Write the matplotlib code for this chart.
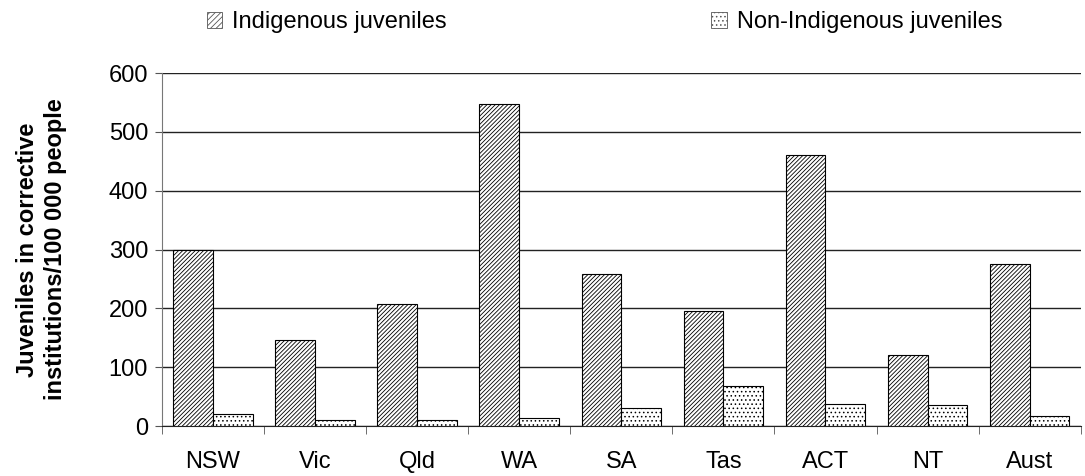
import matplotlib.pyplot as plt
import numpy as np
from matplotlib.patches import Patch

plt.rcParams['font.family'] = ['Liberation Sans', 'DejaVu Sans']
plt.rcParams['hatch.linewidth'] = 0.6

# data
states = ['NSW', 'Vic', 'Qld', 'WA', 'SA', 'Tas', 'ACT', 'NT', 'Aust']
indigenous = [300, 147, 208, 548, 258, 195, 460, 120, 276]
non_indigenous = [20, 11, 10, 14, 30, 68, 38, 35, 17]
y_ticks = [0, 100, 200, 300, 400, 500, 600]

fig = plt.figure(figsize=(10.85, 4.76), dpi=100)
ax = fig.add_axes([0.1493, 0.105, 0.8467, 0.7416])

x = np.arange(len(states))
w = 0.39
ax.bar(x - w / 2, indigenous, w, color='white', edgecolor='black', hatch='////////',
       linewidth=0.8, zorder=3, label='Indigenous juveniles')
ax.bar(x + w / 2, non_indigenous, w, color='white', edgecolor='black', hatch='....',
       linewidth=0.8, zorder=3, label='Non-Indigenous juveniles')

ax.set_xlim(-0.5, len(states) - 0.5)
ax.set_ylim(0, 600)
ax.set_yticks(y_ticks)
ax.set_yticklabels([str(v) for v in y_ticks], fontsize=17)
ax.yaxis.grid(True, color='#222222', linewidth=1.0, zorder=0)

# category labels centred, ticks between categories
ax.set_xticks(x)
ax.set_xticklabels(states, fontsize=17)
ax.tick_params(axis='x', length=0, pad=18)
ax.set_xticks(np.arange(-0.5, len(states)), minor=True)
ax.tick_params(axis='x', which='minor', length=6, direction='out', color='#555555')
ax.tick_params(axis='y', length=5, direction='out', color='#555555', pad=5)

for side in ['top', 'right']:
    ax.spines[side].set_visible(False)
ax.spines['left'].set_color('#777777')
ax.spines['bottom'].set_color('#222222')

ax.set_ylabel('Juveniles in corrective\ninstitutions/100 000 people',
              fontsize=17, fontweight='bold', labelpad=30, linespacing=1.3)

handles = [Patch(facecolor='white', edgecolor='#555555', hatch='//////', linewidth=0.6),
           Patch(facecolor='white', edgecolor='#555555', hatch='....', linewidth=0.6)]
fig.legend(handles, ['Indigenous juveniles', 'Non-Indigenous juveniles'],
           loc='center left', bbox_to_anchor=(0.1908, 0.953), ncol=2, frameon=False,
           fontsize=17, handlelength=0.65, handleheight=0.65, handletextpad=0.42,
           columnspacing=11.2, borderpad=0, borderaxespad=0)

plt.savefig('out.png', dpi=100)
